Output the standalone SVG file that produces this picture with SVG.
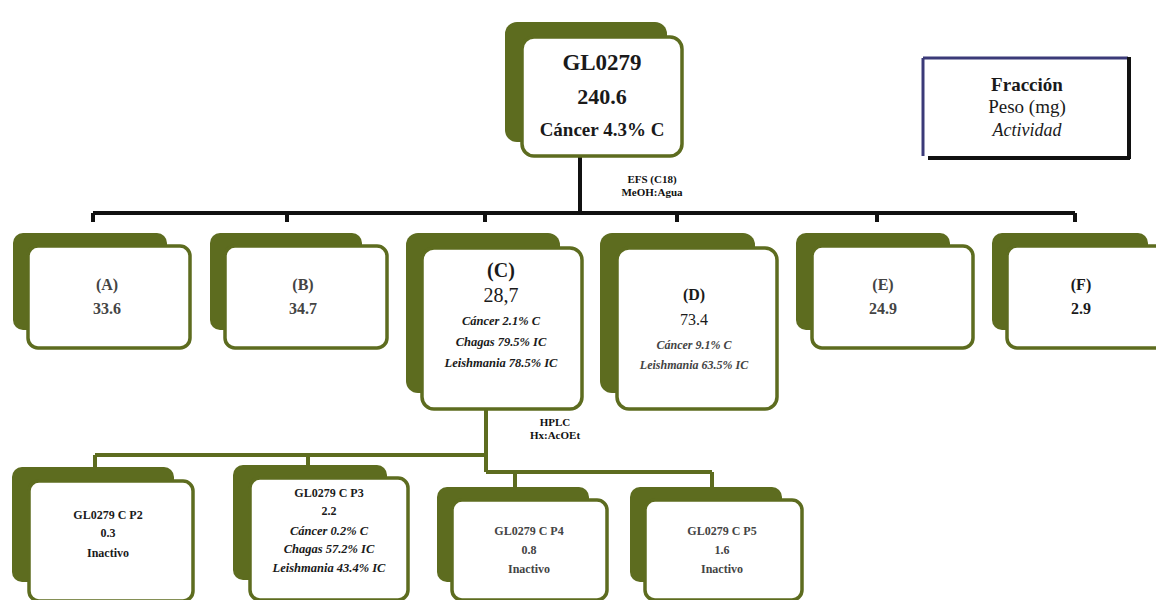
<svg xmlns="http://www.w3.org/2000/svg" width="1156" height="600" viewBox="0 0 1156 600">
<style>
.back{fill:#5d6c1f}
.front{fill:#ffffff;stroke:#5d6c1f;stroke-width:3.5}
.t{font-family:"Liberation Serif",serif;text-anchor:middle;fill:#1a1a1a;font-weight:bold}
.g{fill:#444}
.it{font-style:italic}
.conk{stroke:#111;stroke-width:4;fill:none}
.cong{stroke:#5d6c1f;stroke-width:4;fill:none}
.lbl{font-family:"Liberation Serif",serif;font-weight:bold;font-size:11px;text-anchor:middle;fill:#111}
</style>
<rect width="1156" height="600" fill="#ffffff"/>
<g id="connectors">
<path class="conk" d="M580 157V213M93 213H1075M93 213V222M287 213V222M485 213V222M677 213V222M877 213V222M1075 213V222"/>
<path class="cong" d="M486 410V472M95 455H486M95 455V467M308 455V465M486 472H712M515 472V487M712 472V487"/>
<text class="lbl" x="652" y="183">EFS (C18)</text>
<text class="lbl" x="652" y="196">MeOH:Agua</text>
<text class="lbl" x="555" y="426">HPLC</text>
<text class="lbl" x="555" y="439">Hx:AcOEt</text>
</g>
<g id="root">
<rect class="back" x="505" y="22" width="162" height="120" rx="12"/>
<rect class="front" x="522" y="37" width="160" height="119" rx="12"/>
<text class="t" x="602" y="70" font-size="23">GL0279</text>
<text class="t" x="602" y="104" font-size="22">240.6</text>
<text class="t" x="602" y="136" font-size="19">Cáncer 4.3% C</text>
</g>
<g id="legend">
<path d="M923 58H1128" stroke="#3b3a78" stroke-width="3"/>
<path d="M923 58V156" stroke="#3b3a78" stroke-width="3"/>
<path d="M1129 57V159M928 158H1130" stroke="#111" stroke-width="4"/>
<text class="t" x="1027" y="91" font-size="19">Fracción</text>
<text class="t" x="1027" y="113" font-size="19" style="font-weight:normal">Peso (mg)</text>
<text class="t it" x="1027" y="136" font-size="18" style="font-weight:normal">Actividad</text>
</g>
<g id="nodeA">
<rect class="back" x="13" y="233" width="154" height="97" rx="10"/>
<rect class="front" x="28" y="246" width="162" height="102" rx="10"/>
<text class="t g" x="107" y="290" font-size="16">(A)</text>
<text class="t g" x="107" y="314" font-size="16">33.6</text>
</g>
<g id="nodeB">
<rect class="back" x="210" y="233" width="152" height="97" rx="10"/>
<rect class="front" x="225" y="246" width="162" height="102" rx="10"/>
<text class="t g" x="303" y="290" font-size="16">(B)</text>
<text class="t g" x="303" y="314" font-size="16">34.7</text>
</g>
<g id="nodeC">
<rect class="back" x="406" y="233" width="154" height="160" rx="12"/>
<rect class="front" x="422" y="248" width="160" height="161" rx="12"/>
<text class="t" x="501" y="277" font-size="20">(C)</text>
<text class="t" x="501" y="302" font-size="20" style="font-weight:normal">28,7</text>
<text class="t it" x="501" y="325" font-size="12.5">Cáncer 2.1% C</text>
<text class="t it" x="501" y="346" font-size="12.5">Chagas 79.5% IC</text>
<text class="t it" x="501" y="367" font-size="12.5">Leishmania 78.5% IC</text>
</g>
<g id="nodeD">
<rect class="back" x="600" y="233" width="155" height="160" rx="12"/>
<rect class="front" x="617" y="248" width="160" height="161" rx="12"/>
<text class="t" x="694" y="300" font-size="16">(D)</text>
<text class="t" x="694" y="325" font-size="16" style="font-weight:normal">73.4</text>
<text class="t it g" x="694" y="349" font-size="12">Cáncer 9.1% C</text>
<text class="t it g" x="694" y="369" font-size="12">Leishmania 63.5% IC</text>
</g>
<g id="nodeE">
<rect class="back" x="796" y="233" width="154" height="97" rx="10"/>
<rect class="front" x="812" y="246" width="161" height="102" rx="10"/>
<text class="t g" x="883" y="290" font-size="16">(E)</text>
<text class="t g" x="883" y="314" font-size="16">24.9</text>
</g>
<g id="nodeF">
<rect class="back" x="992" y="233" width="156" height="97" rx="10"/>
<rect class="front" x="1007" y="246" width="160" height="102" rx="10"/>
<text class="t" x="1081" y="290" font-size="16" fill="#3a3f5a">(F)</text>
<text class="t" x="1081" y="314" font-size="16" fill="#3a3f5a">2.9</text>
</g>
<g id="nodeP2">
<rect class="back" x="12" y="467" width="162" height="115" rx="10"/>
<rect class="front" x="29" y="481" width="164" height="120" rx="10"/>
<text class="t" x="108" y="519" font-size="12">GL0279 C P2</text>
<text class="t" x="108" y="537" font-size="12">0.3</text>
<text class="t" x="108" y="557" font-size="12">Inactivo</text>
</g>
<g id="nodeP3">
<rect class="back" x="233" y="465" width="154" height="115" rx="10"/>
<rect class="front" x="250" y="478" width="158" height="122" rx="10"/>
<text class="t" x="329" y="497" font-size="12">GL0279 C P3</text>
<text class="t" x="329" y="515" font-size="12">2.2</text>
<text class="t it" x="329" y="535" font-size="12.5">Cáncer 0.2% C</text>
<text class="t it" x="329" y="553" font-size="12.5">Chagas 57.2% IC</text>
<text class="t it" x="329" y="572" font-size="12.5">Leishmania 43.4% IC</text>
</g>
<g id="nodeP4">
<rect class="back" x="437" y="487" width="152" height="95" rx="10"/>
<rect class="front" x="452" y="500" width="155" height="100" rx="10"/>
<text class="t g" x="529" y="535" font-size="12">GL0279 C P4</text>
<text class="t g" x="529" y="554" font-size="12">0.8</text>
<text class="t g" x="529" y="573" font-size="12">Inactivo</text>
</g>
<g id="nodeP5">
<rect class="back" x="630" y="487" width="152" height="95" rx="10"/>
<rect class="front" x="645" y="500" width="157" height="100" rx="10"/>
<text class="t g" x="722" y="535" font-size="12">GL0279 C P5</text>
<text class="t g" x="722" y="554" font-size="12">1.6</text>
<text class="t g" x="722" y="573" font-size="12">Inactivo</text>
</g>
</svg>
